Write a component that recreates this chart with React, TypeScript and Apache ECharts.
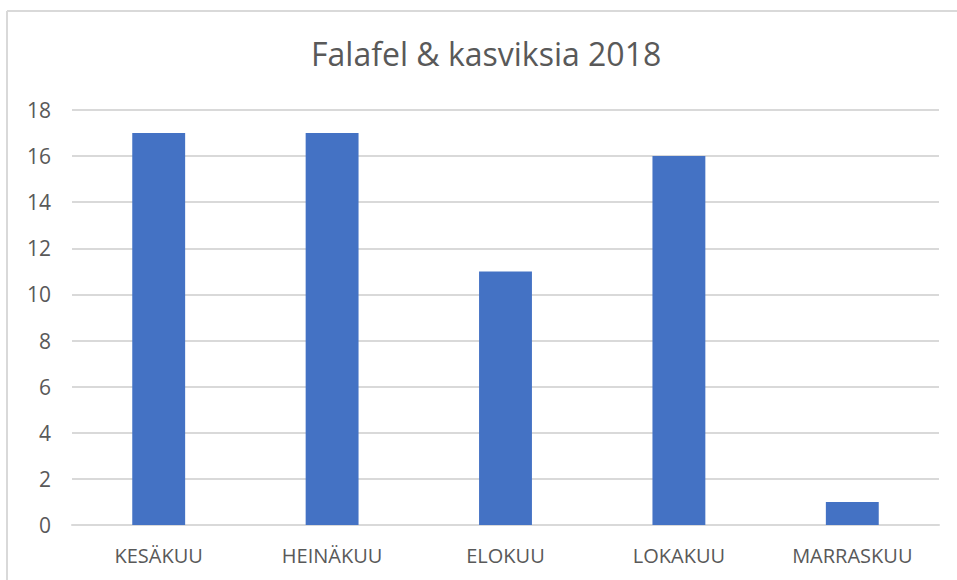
import React, { useEffect, useRef } from "react";
import * as echarts from "echarts";

const categories = ["KESÄKUU", "HEINÄKUU", "ELOKUU", "LOKAKUU", "MARRASKUU"];
const values = [17, 17, 11, 16, 1];
const titleText = "Falafel & kasviksia 2018";

export default function App() {
  const ref = useRef<HTMLDivElement>(null);
  useEffect(() => {
    if (!ref.current) return;
    const chart = echarts.init(ref.current, null, { renderer: "svg" });
    chart.setOption({
      animation: false,
      backgroundColor: "#ffffff",
      title: {
        text: titleText,
        left: 306,
        top: 32,
        textStyle: {
          fontFamily: "Open Sans",
          fontSize: 32,
          fontWeight: "normal",
          color: "#595959",
        },
      },
      graphic: [
        { type: "line", shape: { x1: 7, y1: 11, x2: 7, y2: 580 }, style: { stroke: "#d9d9d9", lineWidth: 2 } },
        { type: "line", shape: { x1: 7, y1: 11, x2: 957, y2: 11 }, style: { stroke: "#d9d9d9", lineWidth: 2 } },
      ],
      grid: { left: 72, right: 18, top: 110, bottom: 55, containLabel: false },
      xAxis: {
        type: "category",
        data: categories,
        axisLine: { show: true, lineStyle: { color: "#d9d9d9", width: 2 } },
        axisTick: { show: false },
        axisLabel: { fontFamily: "Open Sans", fontSize: 20, color: "#595959", margin: 20 },
      },
      yAxis: {
        type: "value",
        min: 0,
        max: 18,
        interval: 2,
        axisLine: { show: false },
        axisTick: { show: false },
        splitLine: { lineStyle: { color: "#d9d9d9", width: 2 } },
        axisLabel: { fontFamily: "Open Sans", fontSize: 21, color: "#595959", margin: 21 },
      },
      series: [
        {
          type: "bar",
          data: values,
          barWidth: "30.5%",
          itemStyle: { color: "#4472C4" },
        },
      ],
    });
    return () => chart.dispose();
  }, []);
  return (
    <div
      ref={ref}
      style={{ position: "fixed", left: 0, top: 0, width: 957, height: 580 }}
    />
  );
}
